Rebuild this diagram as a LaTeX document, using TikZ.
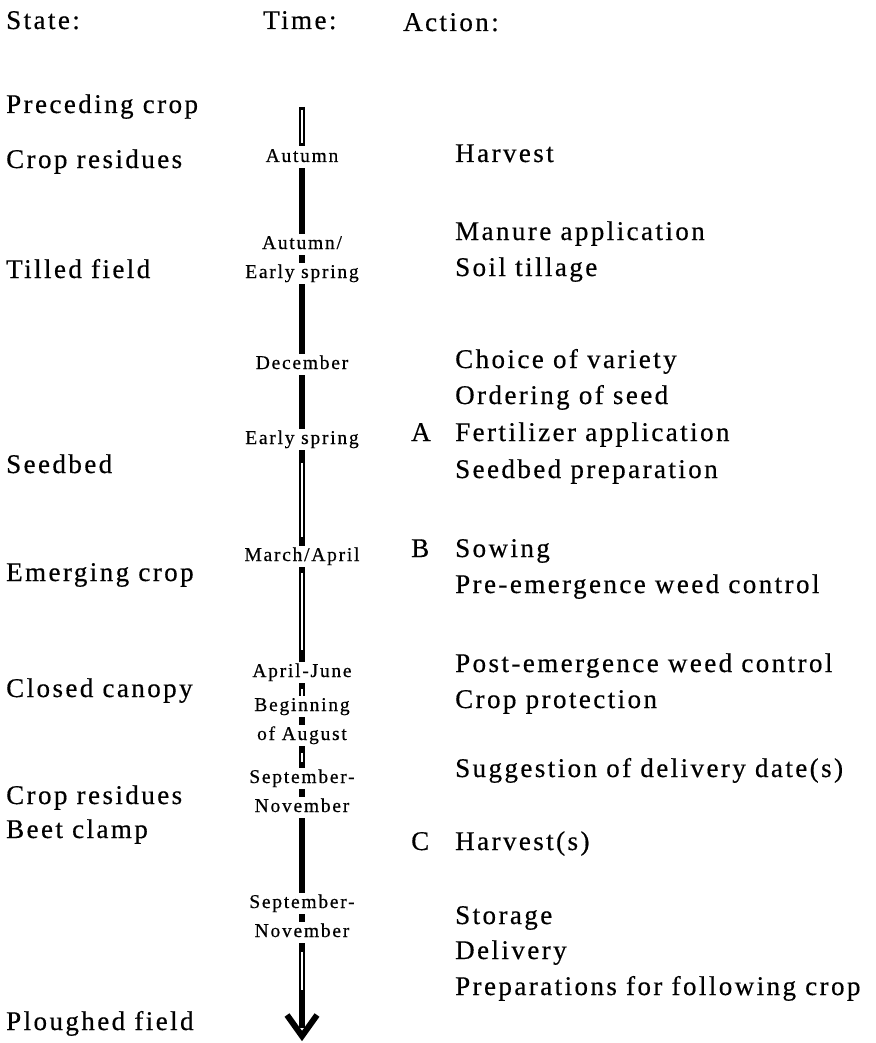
\documentclass[tikz,border=0pt]{standalone}
\usepackage{fontspec}
\setmainfont{Liberation Serif}[LetterSpace=9,FakeBold=0.5]

\begin{document}
\begin{tikzpicture}[x=1pt,y=-1pt,
    txt/.style={anchor=base west,inner sep=0pt,font=\fontsize{27}{30}\selectfont},
    when/.style={anchor=base,fill=white,inner xsep=2pt,inner ysep=2pt,
        text height=13.5pt,text depth=4pt,font=\fontsize{19.5}{22}\selectfont},
    bar/.style={line width=6.5pt},
    hollow/.style={white,line width=2.4pt}]
    \useasboundingbox (0,0) rectangle (875,1043);
    % headings
    \node[txt] (hd-state) at (6,29) {State:};
    \node[txt] (hd-time) at (263,29) {Time:};
    \node[txt] (hd-action) at (403,31) {Action:};
    % time axis
    \coordinate (top) at (302,107);
    \coordinate (stem) at (302,1028);
    \coordinate (tip) at (302,1036);
    \draw[bar] (top) -- (stem);
    \draw[hollow] (302,110) -- (302,143);
    \draw[hollow] (302,463) -- (302,537);
    \draw[hollow] (302,573) -- (302,650);
    \draw[hollow] (302,689) -- (302,696);
    \draw[hollow] (302,753) -- (302,762);
    \draw[hollow] (302,952) -- (302,990);
    \draw[line width=6pt] (287,1015) -- (tip) -- (317,1015);
    % times
    \node[when] (t-aut) at (302,162) {Autumn};
    \node[when] (t-aut2) at (302,249) {Autumn/};
    \node[when] (t-early1) at (302,278) {Early spring};
    \node[when] (t-dec) at (302,369) {December};
    \node[when] (t-early2) at (302,444) {Early spring};
    \node[when] (t-march) at (302,561) {March/April};
    \node[when] (t-april) at (302,677) {April-June};
    \node[when] (t-begin) at (302,711) {Beginning};
    \node[when] (t-aug) at (302,740) {of August};
    \node[when] (t-sep1) at (302,783) {September-};
    \node[when] (t-nov1) at (302,812) {November};
    \node[when] (t-sep2) at (302,908) {September-};
    \node[when] (t-nov2) at (302,937) {November};
    % states
    \node[txt] (s-prec) at (6,113) {Preceding crop};
    \node[txt] (s-res1) at (6,168) {Crop residues};
    \node[txt] (s-till) at (6,278) {Tilled field};
    \node[txt] (s-seed) at (6,473) {Seedbed};
    \node[txt] (s-emerg) at (6,581) {Emerging crop};
    \node[txt] (s-canopy) at (6,697) {Closed canopy};
    \node[txt] (s-res2) at (6,804) {Crop residues};
    \node[txt] (s-clamp) at (6,838) {Beet clamp};
    \node[txt] (s-plough) at (6,1030) {Ploughed field};
    % actions
    \node[txt] (a-harv) at (455,162) {Harvest};
    \node[txt] (a-manure) at (455,240) {Manure application};
    \node[txt] (a-till) at (455,276) {Soil tillage};
    \node[txt] (a-var) at (455,368) {Choice of variety};
    \node[txt] (a-order) at (455,404) {Ordering of seed};
    \node[txt] (a-fert) at (455,441) {Fertilizer application};
    \node[txt] (a-seedbed) at (455,478) {Seedbed preparation};
    \node[txt] (a-sow) at (455,557) {Sowing};
    \node[txt] (a-pre) at (455,593) {Pre-emergence weed control};
    \node[txt] (a-post) at (455,672) {Post-emergence weed control};
    \node[txt] (a-prot) at (455,708) {Crop protection};
    \node[txt] (a-deliv) at (455,777) {Suggestion of delivery date(s)};
    \node[txt] (a-harvs) at (455,850) {Harvest(s)};
    \node[txt] (a-store) at (455,924) {Storage};
    \node[txt] (a-delivery) at (455,959) {Delivery};
    \node[txt] (a-follow) at (455,995) {Preparations for following crop};
    % key moments
    \node[txt] (m-a) at (411,441) {A};
    \node[txt] (m-b) at (411,557) {B};
    \node[txt] (m-c) at (411,850) {C};
\end{tikzpicture}
\end{document}
